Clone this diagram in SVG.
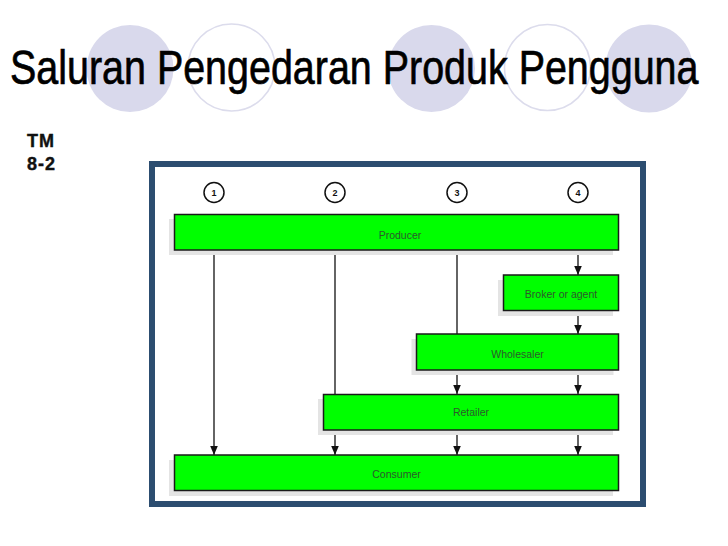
<svg xmlns="http://www.w3.org/2000/svg" width="728" height="546" viewBox="0 0 728 546">
<defs>
<style>
.fc{fill:#d9d9ec}
.oc{fill:none;stroke:#dcdcec;stroke-width:1.6}
.title{font-family:"Liberation Sans",Arial,sans-serif;font-size:49px;fill:#000;stroke:#000;stroke-width:0.7}
.tm{font-family:"Liberation Sans",Arial,sans-serif;font-size:18px;font-weight:bold;fill:#111;stroke:#111;stroke-width:0.4;letter-spacing:1px}
.box{fill:#00ff00;stroke:#1a1a1a;stroke-width:1.5}
.sh{fill:#e4e4e4}
.lbl{font-family:"Liberation Sans",Arial,sans-serif;font-size:10.5px;fill:#2c5a2c;text-anchor:middle}
.num{fill:#fff;stroke:#111;stroke-width:1.5}
.numt{font-family:"Liberation Sans",Arial,sans-serif;font-size:9px;font-weight:bold;fill:#111;text-anchor:middle}
.ln{stroke:#111;stroke-width:1.3;fill:none}
</style>
<marker id="ah" viewBox="0 0 9 10" refX="9" refY="5" markerWidth="9" markerHeight="10" markerUnits="userSpaceOnUse" orient="auto">
<path d="M0,1.2 L9,5 L0,8.8 Z" fill="#111"/>
</marker>
</defs>
<rect width="728" height="546" fill="#fff"/>
<g id="decor">
<circle class="fc" cx="130" cy="68.5" r="43.5"/>
<circle class="oc" cx="231.5" cy="67.5" r="43.5"/>
<circle class="fc" cx="431.5" cy="68.5" r="43.5"/>
<circle class="oc" cx="547.5" cy="67.5" r="43"/>
<circle class="fc" cx="649" cy="68.5" r="44"/>
</g>
<g id="title">
<text class="title" transform="translate(10,84) scale(0.805,1)" x="0" y="0">Saluran Pengedaran Produk Pengguna</text>
</g>
<g id="tm">
<text class="tm" x="27" y="147">TM</text>
<text class="tm" x="27" y="170">8-2</text>
</g>
<rect x="152" y="164" width="491" height="340" fill="#fff" stroke="#2c4d70" stroke-width="6"/>
<g id="numbers">
<g id="n1"><circle class="num" cx="214" cy="192.5" r="10"/><text class="numt" x="214" y="195.8">1</text></g>
<g id="n2"><circle class="num" cx="335" cy="192.5" r="10"/><text class="numt" x="335" y="195.8">2</text></g>
<g id="n3"><circle class="num" cx="457" cy="192.5" r="10"/><text class="numt" x="457" y="195.8">3</text></g>
<g id="n4"><circle class="num" cx="578" cy="192.5" r="10"/><text class="numt" x="578" y="195.8">4</text></g>
</g>
<g id="connectors">
<line class="ln" x1="214" y1="250" x2="214" y2="455" marker-end="url(#ah)"/>
<line class="ln" x1="335" y1="250" x2="335" y2="394"/>
<line class="ln" x1="457" y1="250" x2="457" y2="334"/>
<line class="ln" x1="578" y1="250" x2="578" y2="275" marker-end="url(#ah)"/>
<line class="ln" x1="578" y1="311" x2="578" y2="334" marker-end="url(#ah)"/>
<line class="ln" x1="457" y1="370" x2="457" y2="394" marker-end="url(#ah)"/>
<line class="ln" x1="578" y1="370" x2="578" y2="394" marker-end="url(#ah)"/>
<line class="ln" x1="335" y1="430" x2="335" y2="455" marker-end="url(#ah)"/>
<line class="ln" x1="457" y1="430" x2="457" y2="455" marker-end="url(#ah)"/>
<line class="ln" x1="578" y1="430" x2="578" y2="455" marker-end="url(#ah)"/>
</g>
<g id="producer">
<rect class="sh" x="169" y="219" width="444" height="36"/>
<rect class="box" x="174.5" y="214.5" width="444" height="35.5"/>
<text class="lbl" x="400" y="238.5">Producer</text>
</g>
<g id="broker">
<rect class="sh" x="498" y="280" width="115" height="36"/>
<rect class="box" x="503.5" y="275" width="115" height="35.5"/>
<text class="lbl" x="561" y="297.5">Broker or agent</text>
</g>
<g id="wholesaler">
<rect class="sh" x="411.5" y="339" width="202" height="36"/>
<rect class="box" x="416.5" y="334" width="202" height="36"/>
<text class="lbl" x="517.5" y="357.5">Wholesaler</text>
</g>
<g id="retailer">
<rect class="sh" x="318" y="399" width="295" height="36"/>
<rect class="box" x="323.5" y="394.5" width="295" height="35.5"/>
<text class="lbl" x="471" y="416">Retailer</text>
</g>
<g id="consumer">
<rect class="sh" x="169" y="460" width="444" height="36"/>
<rect class="box" x="174.5" y="455" width="444" height="35.5"/>
<text class="lbl" x="396.5" y="478">Consumer</text>
</g>
</svg>
